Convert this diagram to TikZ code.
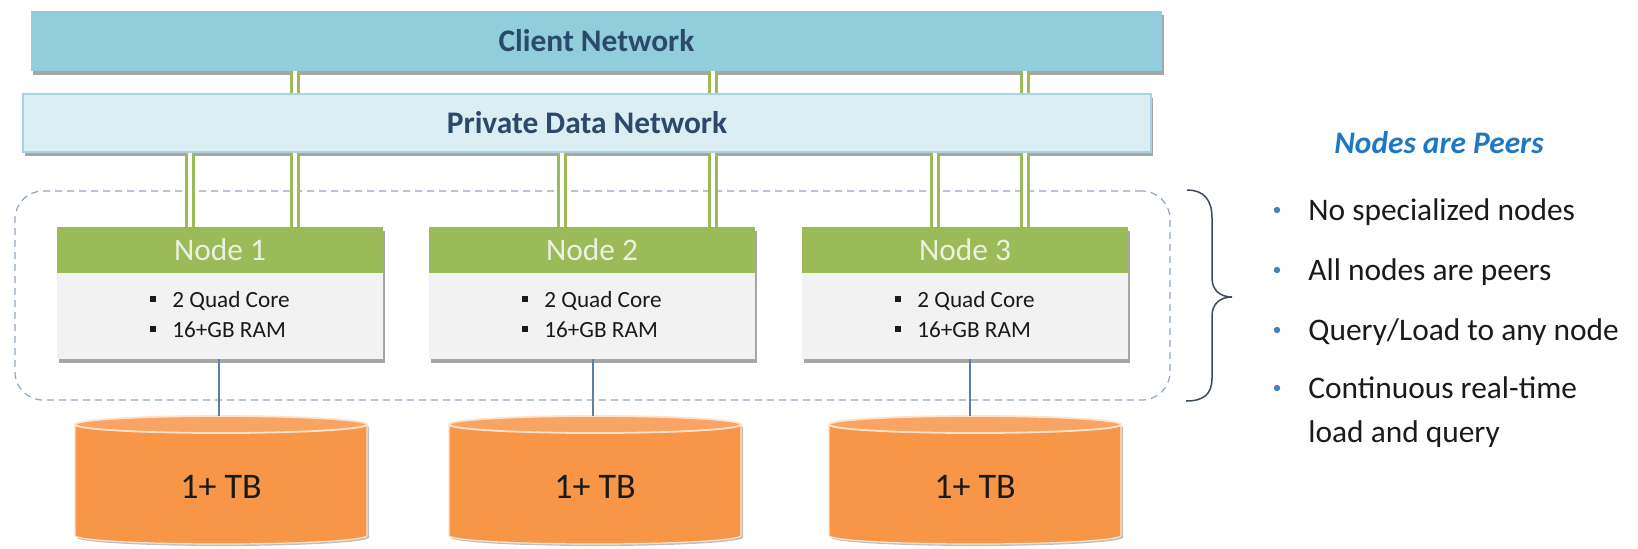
\documentclass[tikz,border=0pt]{standalone}
\usepackage{fontspec}
\setmainfont{Carlito}
\usetikzlibrary{shadows}
\definecolor{clientfill}{HTML}{92CDDC}
\definecolor{privfill}{HTML}{DAEEF3}
\definecolor{privline}{HTML}{A9D3E0}
\definecolor{navy}{HTML}{2B4A6B}
\definecolor{nodegreen}{HTML}{9BBB59}
\definecolor{nodetext}{HTML}{EBF1DE}
\definecolor{bodyfill}{HTML}{F2F2F2}
\definecolor{diskorange}{HTML}{F79646}
\definecolor{disktop}{HTML}{F9A462}
\definecolor{diskrim}{HTML}{FDE3CE}
\definecolor{dashcol}{HTML}{8FA6C2}
\definecolor{linkblue}{HTML}{5B7FA8}
\definecolor{peersblue}{HTML}{1F78C4}
\definecolor{dotblue}{HTML}{4A7EBB}
\definecolor{bracecol}{HTML}{3B4A5C}
\definecolor{textdark}{HTML}{1A1A1A}
\newcommand\mainsize{\fontsize{15.7}{19}\selectfont}
\newcommand\sqb{\makebox[11pt][l]{\rule[2.7pt]{2.6pt}{2.6pt}}}
\begin{document}
\begin{tikzpicture}[x=0.5pt,y=-0.5pt,
  boxshadow/.style={drop shadow={shadow xshift=1.2pt,shadow yshift=-2pt,opacity=0.35,fill=black}},
  clientbar/.style={rectangle,fill=clientfill,minimum width=565.5pt,minimum height=30pt,inner sep=0pt,
    text=navy,font=\mainsize\bfseries,boxshadow},
  privbar/.style={rectangle,fill=privfill,draw=privline,line width=0.6pt,minimum width=564pt,minimum height=29pt,
    inner sep=0pt,text=navy,font=\mainsize\bfseries,boxshadow},
  dbl/.style={draw=nodegreen,line width=1.5pt,double=white,double distance=2pt},
  cluster/.style={draw=dashcol,line width=0.6pt,dash pattern=on 3.5pt off 2.5pt,rounded corners=14pt,
    minimum width=577.5pt,minimum height=104.5pt,inner sep=0pt},
  nodehead/.style={rectangle,fill=nodegreen,minimum width=163pt,minimum height=23pt,inner sep=0pt,
    text=nodetext,font=\mainsize,boxshadow},
  nodebody/.style={rectangle,fill=bodyfill,minimum width=163pt,minimum height=43pt,inner sep=0pt,boxshadow},
  spec/.style={anchor=base west,inner sep=0pt,font=\fontsize{11.6}{14}\selectfont,text=textdark},
  diskbody/.style={fill=diskorange,draw=diskrim,line width=0.6pt,
    drop shadow={shadow xshift=1pt,shadow yshift=-1pt,opacity=0.25,fill=black}},
  disktopst/.style={fill=disktop,draw=diskrim,line width=0.9pt},
  disklabel/.style={inner sep=0pt,text=textdark,font=\fontsize{18}{22}\selectfont},
  link/.style={draw=linkblue,line width=0.7pt},
  peers/.style={anchor=base,inner sep=0pt,text=peersblue,font=\mainsize\bfseries\itshape},
  point/.style={anchor=base west,inner sep=0pt,text=textdark,font=\mainsize},
  dot/.style={circle,fill=dotblue,minimum size=3.2pt,inner sep=0pt},
  bracest/.style={draw=bracecol,line width=0.75pt}
]
\useasboundingbox (0,0) rectangle (1638,548);

% dashed cluster
\node[cluster] (cl) at (592.5,295.5) {};

% network bars
\node[clientbar] (client) at (596.5,41) {Client Network};
\node[privbar] (priv) at (587,123) {Private Data Network};

% compute nodes
\foreach \i/\cx in {1/220,2/592,3/965} {
  \node[nodehead] (h\i) at (\cx,250) {Node \i};
  \node[nodebody] (n\i) at (\cx,316) {};
  \node[spec] (q\i) at (\cx-70,307) {\sqb 2 Quad Core};
  \node[spec] (r\i) at (\cx-70,337) {\sqb 16+GB RAM};
}

% double links
\foreach \x in {295,713,1025}
  \draw[dbl] (client.south -| \x,0) -- (priv.north -| \x,0);
\foreach \x/\i in {190/1,295/1,562/2,713/2,935/3,1025/3}
  \draw[dbl] (priv.south -| \x,0) -- (h\i.north -| \x,0);

% disks
\foreach \i/\cx/\lx in {1/221/219,2/595/593,3/975/970} {
  \path[diskbody] (\cx-146,424.5) -- (\cx-146,535.5)
     arc[start angle=180,end angle=360,x radius=73pt,y radius=4.25pt] -- (\cx+146,424.5) -- cycle;
  \draw[disktopst] (\cx,424.5) ellipse[x radius=73pt,y radius=4.25pt];
  \node[disklabel] (d\i) at (\cx,487) {1+ TB};
  \coordinate (dt\i) at (\lx,416);
  \draw[link] (dt\i |- n\i.south) -- (dt\i);
}

% brace
\draw[bracest] (1187,190) .. controls (1204,190) and (1212,200) .. (1212,218) -- (1212,278)
  .. controls (1212,290) and (1220,297) .. (1232,297)
  .. controls (1220,297) and (1212,304) .. (1212,316) -- (1212,378)
  .. controls (1212,394) and (1204,401) .. (1186,401);

% right panel
\node[peers] (title) at (1439,153) {Nodes are Peers};
\node[dot] (b1) at (1277,210) {};
\node[point] (p1) at (1308,220) {No specialized nodes};
\node[dot] (b2) at (1277,270) {};
\node[point] (p2) at (1308,280) {All nodes are peers};
\node[dot] (b3) at (1277,330) {};
\node[point] (p3) at (1308,340) {Query/Load to any node};
\node[dot] (b4) at (1277,388) {};
\node[point] (p4) at (1308,398) {Continuous real-time};
\node[point] (p5) at (1308,442) {load and query};
\end{tikzpicture}
\end{document}
